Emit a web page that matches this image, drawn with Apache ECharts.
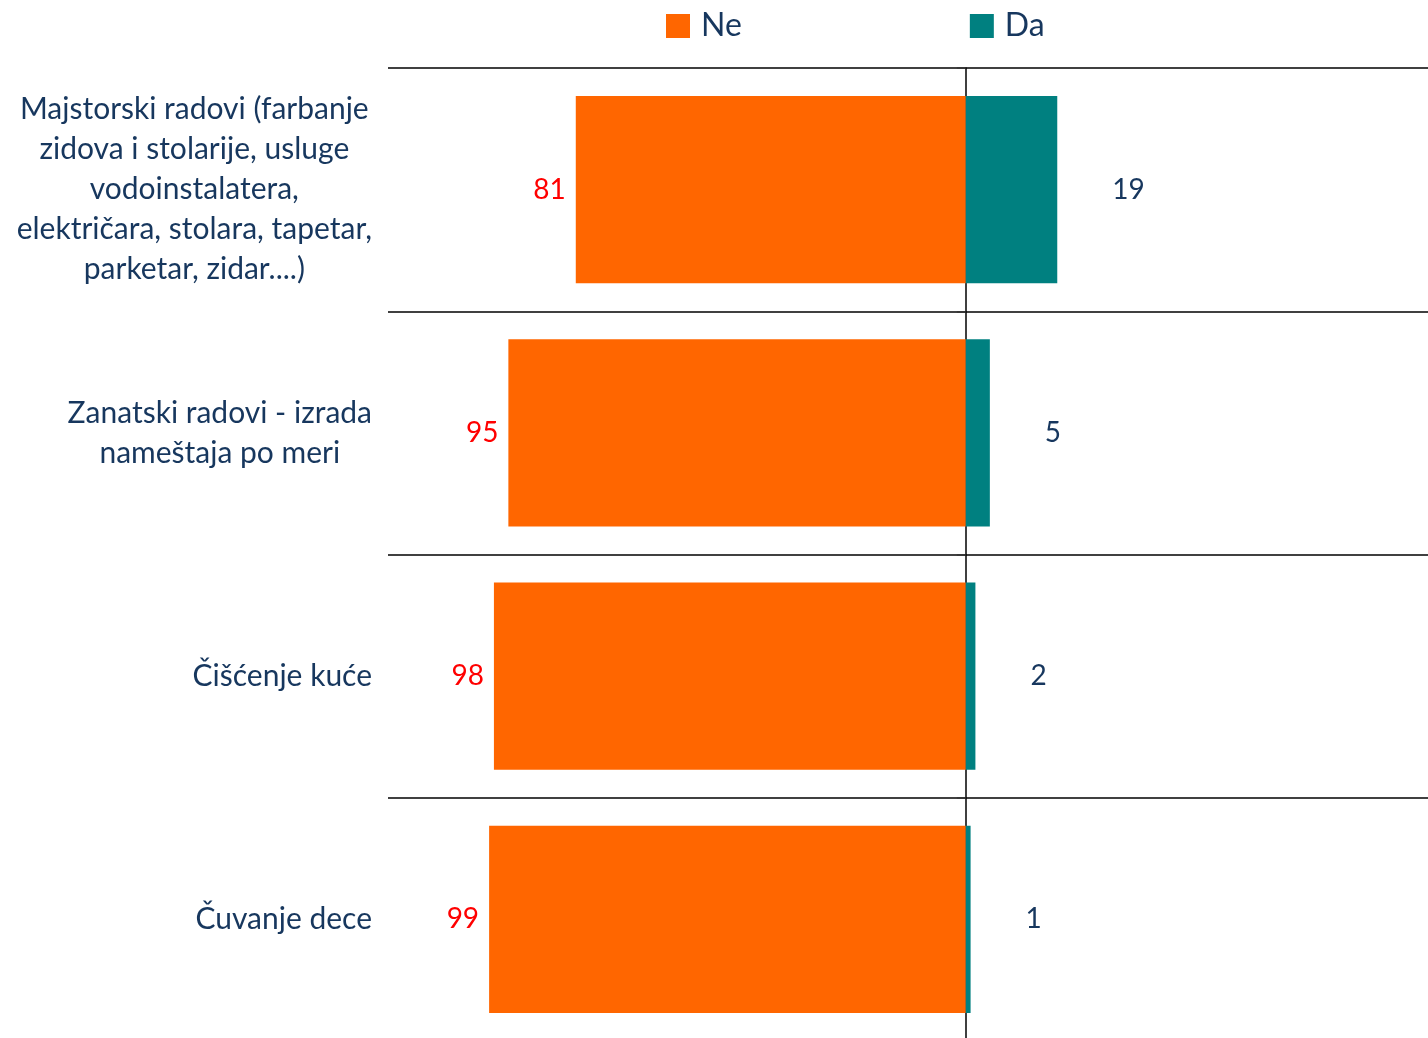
<!DOCTYPE html>
<html>
<head>
<meta charset="utf-8">
<title>Ne / Da</title>
<script src="https://cdn.jsdelivr.net/npm/echarts@6/dist/echarts.min.js"></script>
<style>
  html, body { margin: 0; padding: 0; background: #fff; }
  #chart { width: 1428px; height: 1038px; }
</style>
</head>
<body>
<div id="chart"></div>
<script>
// categories, top to bottom (line breaks as in the picture)
const categories = [
  'Majstorski radovi (farbanje\nzidova i stolarije, usluge\nvodoinstalatera,\nelektričara, stolara, tapetar,\nparketar, zidar....)',
  'Zanatski radovi - izrada\nnameštaja po meri',
  'Čišćenje kuće',
  'Čuvanje dece'
]
const neValues = [81, 95, 98, 99]
const daValues = [19, 5, 2, 1]
const seriesNames = ['Ne', 'Da']

const xMin = -120
const xMax = 96

const navy = '#17375e'
const font = 'Lato'

const gridLeft = 388
const gridWidth = 1428 - gridLeft
// shift of the zero line from the grid's left edge
const zeroShift = (0 - xMin) / (xMax - xMin) * gridWidth

const chart = echarts.init(document.getElementById('chart'))

const option = {
  animation: false,
  legend: {
    data: seriesNames,
    left: 661,
    top: 5,
    icon: 'rect',
    itemWidth: 24,
    itemHeight: 24,
    itemGap: 228,
    textStyle: {
      fontFamily: font,
      fontSize: 32,
      lineHeight: 32,
      color: navy,
      padding: [0, 0, 0, 6]
    }
  },
  grid: {
    left: gridLeft,
    width: gridWidth,
    top: 68,
    height: 973,
    outerBoundsMode: 'none'
  },
  xAxis: {
    type: 'value',
    min: xMin,
    max: xMax,
    show: false
  },
  yAxis: [
    {
      type: 'category',
      data: categories,
      inverse: true,
      axisLine: { show: false, onZero: false },
      axisTick: { show: false },
      splitLine: {
        show: true,
        lineStyle: { color: '#000', width: 1.5 }
      },
      axisLabel: {
        margin: 16,
        color: navy,
        formatter: (value) => value.split('\n').map(l => '{c|' + l + '}').join('\n'),
        rich: {
          c: {
            align: 'center',
            fontFamily: font,
            fontSize: 30,
            lineHeight: 40,
            color: navy
          }
        }
      }
    },
    {
      // vertical line at zero, with the short ticks
      type: 'category',
      data: categories,
      inverse: true,
      position: 'left',
      offset: -zeroShift,
      axisLine: {
        onZero: false,
        lineStyle: { color: '#000', width: 1.5 }
      },
      axisTick: {
        show: true,
        length: 9,
        lineStyle: { color: '#333', width: 1.5 }
      },
      axisLabel: { show: false },
      splitLine: { show: false }
    }
  ],
  series: [
    {
      name: 'Ne',
      type: 'bar',
      stack: 'total',
      barCategoryGap: '23%',
      data: neValues.map(v => -v),
      itemStyle: { color: '#ff6600' },
      label: {
        show: true,
        position: 'left',
        distance: 10,
        fontFamily: font,
        fontSize: 28,
        color: '#ff0000',
        formatter: (p) => Math.abs(p.value)
      }
    },
    {
      name: 'Da',
      type: 'bar',
      stack: 'total',
      barCategoryGap: '23%',
      data: daValues,
      itemStyle: { color: '#008080' },
      label: {
        show: true,
        position: 'right',
        distance: 55,
        fontFamily: font,
        fontSize: 28,
        color: navy
      }
    }
  ]
}

chart.setOption(option)
</script>
</body>
</html>
